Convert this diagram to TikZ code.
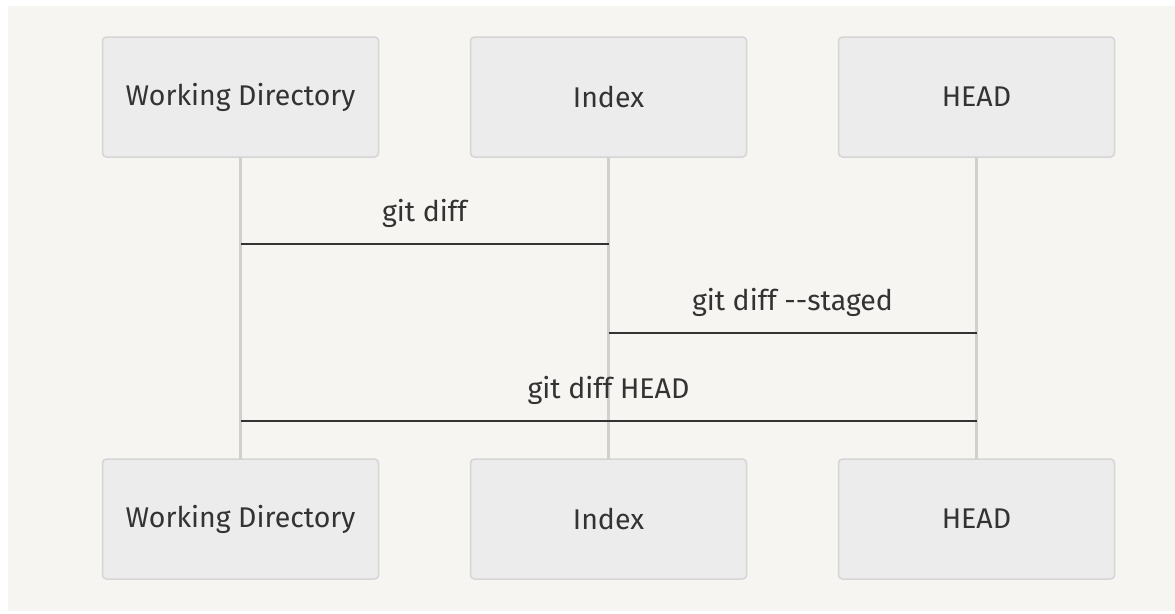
\documentclass[tikz,border=0pt]{standalone}
\usepackage{fontspec}
\setmainfont{Fira Sans}
\usetikzlibrary{positioning}
\definecolor{paper}{HTML}{F6F5F2}
\definecolor{boxfill}{HTML}{ECECEC}
\definecolor{boxline}{HTML}{D5D5D5}
\definecolor{lifegray}{HTML}{D0D0D0}
\definecolor{ink}{HTML}{333333}
\tikzset{
	x=1pt, y=-1pt,
	node distance=92pt,
	actor/.style={draw=boxline, fill=boxfill, line width=1.5pt, rounded corners=4pt, outer sep=0pt,
		minimum width=276pt, minimum height=120pt, text=ink, font=\fontsize{28.5}{34}\selectfont},
	lifeline/.style={draw=lifegray, line width=2.2pt},
	msg/.style={draw=ink, line width=2.4pt},
	msglabel/.style={anchor=base, yshift=23pt, text=ink, font=\fontsize{28.5}{34}\selectfont}
}

\begin{document}
\begin{tikzpicture}
	\useasboundingbox (0,0) rectangle (1175,613);
	\fill[paper] (8,6) rectangle (1175,611);

	% participants, top row and bottom row
	\node[actor] (wd) at (240.5,97) {Working Directory};
	\node[actor, right=of wd]  (idx)  {Index};
	\node[actor, right=of idx] (head) {HEAD};
	\node[actor, below=302pt of wd]   (wdb)   {Working Directory};
	\node[actor, below=302pt of idx]  (idxb)  {Index};
	\node[actor, below=302pt of head] (headb) {HEAD};

	% lifelines
	\draw[lifeline] (wd)   -- (wdb);
	\draw[lifeline] (idx)  -- (idxb);
	\draw[lifeline] (head) -- (headb);

	% message ends on the lifelines
	\coordinate (wd1)   at (wd.south |- 0,244);
	\coordinate (idx1)  at (idx.south |- 0,244);
	\coordinate (idx2)  at (idx.south |- 0,333);
	\coordinate (head2) at (head.south |- 0,333);
	\coordinate (wd3)   at (wd.south |- 0,421);
	\coordinate (head3) at (head.south |- 0,421);

	\draw[msg] (wd1)  -- node[msglabel] {git diff} (idx1);
	\draw[msg] (idx2) -- node[msglabel] {git diff -{}-staged} (head2);
	\draw[msg] (wd3)  -- node[msglabel] {git diff HEAD} (head3);
\end{tikzpicture}
\end{document}
